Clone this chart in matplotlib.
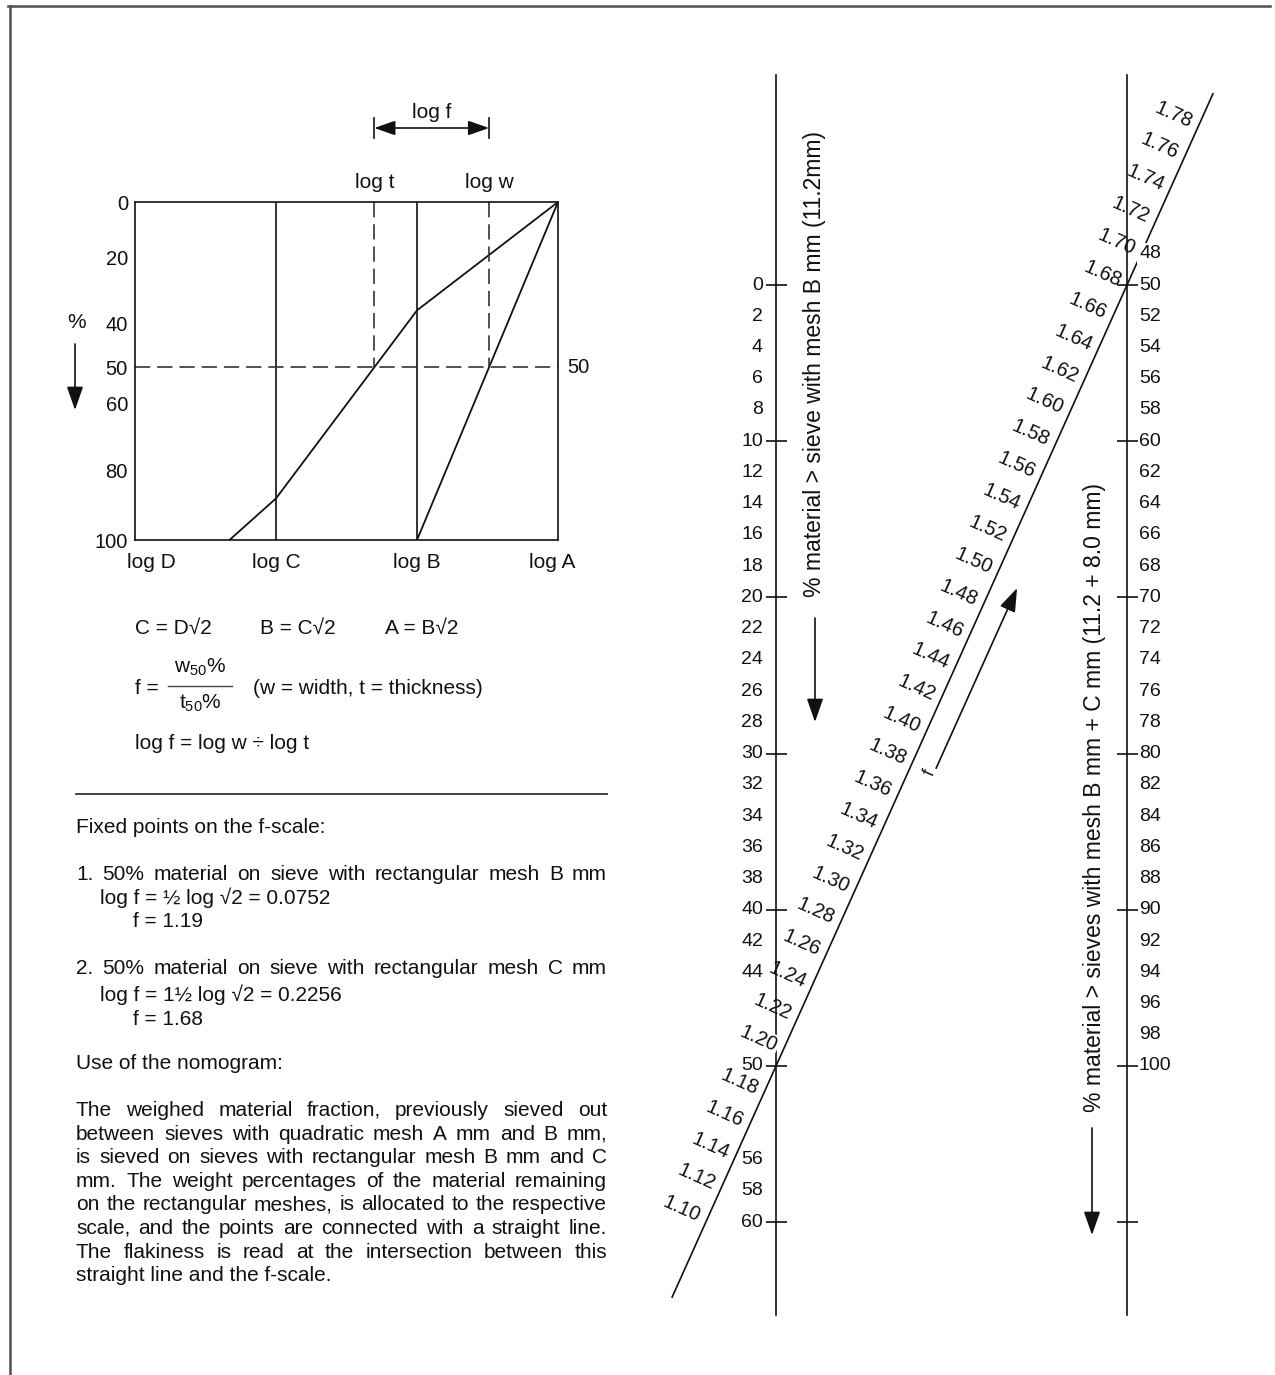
import numpy as np
import matplotlib
matplotlib.use("Agg")
import matplotlib.pyplot as plt
from matplotlib.lines import Line2D
from matplotlib.patches import FancyArrowPatch
import matplotlib.transforms as mtransforms

plt.rcParams['font.family'] = ['Liberation Sans', 'DejaVu Sans']
plt.rcParams['mathtext.fontset'] = 'custom'
plt.rcParams['mathtext.rm'] = 'Liberation Sans'
plt.rcParams['mathtext.it'] = 'Liberation Sans:italic'
plt.rcParams['mathtext.default'] = 'regular'
plt.rcParams['lines.scale_dashes'] = False

W, H, DPI = 1275, 1375, 100
PT = 72.0 / DPI          # points per pixel
INK = '#111111'

# ---------------- grading diagram ----------------
sieve_labels = ['log D', 'log C', 'log B', 'log A']
sieve_steps = [0, 1, 2, 3]                 # in steps of log sqrt(2)
pct_ticks = [0, 20, 40, 50, 60, 80, 100]
pct_tick_frac = [0, 0.163, 0.36, 0.489, 0.597, 0.795, 1.0]   # drawn spacing of the % axis

# % retained, thickness grading (rectangular meshes) and width grading
thick_steps = [3, 2, 1, 0.67]
thick_pct = [0, 36, 88, 100]
width_steps = [3, 2]
width_pct = [0, 100]

# ---------------- nomogram ----------------
left_labels = [0, 2, 4, 6, 8, 10, 12, 14, 16, 18, 20, 22, 24, 26, 28, 30,
               32, 34, 36, 38, 40, 42, 44, 50, 56, 58, 60]
left_major = [0, 10, 20, 30, 40, 50, 60]
right_labels = [48, 50, 52, 54, 56, 58, 60, 62, 64, 66, 68, 70, 72, 74, 76,
                78, 80, 82, 84, 86, 88, 90, 92, 94, 96, 98, 100]
right_major = [50, 60, 70, 80, 90, 100, 110]
right_offset = 50                       # right-scale value level with left 0
f_labels = [1.10, 1.12, 1.14, 1.16, 1.18, 1.20, 1.22, 1.24, 1.26, 1.28, 1.30,
            1.32, 1.34, 1.36, 1.38, 1.40, 1.42, 1.44, 1.46, 1.48, 1.50, 1.52,
            1.54, 1.56, 1.58, 1.60, 1.62, 1.64, 1.66, 1.68, 1.70, 1.72, 1.74,
            1.76, 1.78]
f_fixed = [1.19, 1.68]     # 50 % on mesh B (left scale), 50 % on B + C (right scale)
f_line = [1.045, 1.80]
f_arrow = [1.383, 1.496]
masked_f = [1.20]
masked_right = [48]

fig = plt.figure(figsize=(W / DPI, H / DPI), dpi=DPI)
fig.patch.set_facecolor('white')
renderer = fig.canvas.get_renderer()


def rect(x0, y0, x1, y1):
    return [x0 / W, 1 - y1 / H, (x1 - x0) / W, (y1 - y0) / H]


def ftext(x, y, s, **kw):
    kw.setdefault('color', INK)
    return fig.text(x / W, 1 - y / H, s, **kw)


def farrow(x0, y0, x1, y1, hl=0.8, hw=0.28, ms=18, lw=1.2, style='-|>'):
    st = f'{style},head_length={hl},head_width={hw}'
    fig.add_artist(FancyArrowPatch((x0 / W, 1 - y0 / H), (x1 / W, 1 - y1 / H),
                                   transform=fig.transFigure, arrowstyle=st,
                                   mutation_scale=ms, lw=lw, color=INK,
                                   shrinkA=0, shrinkB=0))


# page frame (top and left edges)
fig.add_artist(Line2D([8 / W, 1270 / W], [1 - 6 / H, 1 - 6 / H],
                      transform=fig.transFigure, color='#555555', lw=2.6 * PT))
fig.add_artist(Line2D([10 / W, 10 / W], [1 - 6 / H, 0],
                      transform=fig.transFigure, color='#555555', lw=2.6 * PT))

# ================= grading diagram =================
ax1 = fig.add_axes(rect(135, 202, 558, 540))
fwd = lambda p: np.interp(p, pct_ticks, pct_tick_frac)
inv = lambda q: np.interp(q, pct_tick_frac, pct_ticks)
ax1.set_yscale('function', functions=(fwd, inv))
ax1.set_xlim(sieve_steps[0], sieve_steps[-1])
ax1.set_ylim(100, 0)
for sp in ax1.spines.values():
    sp.set_linewidth(1.2)
    sp.set_color(INK)
ax1.set_xticks([])
ax1.set_yticks(pct_ticks)
ax1.set_yticklabels([str(v) for v in pct_ticks])
ax1.yaxis.set_minor_locator(matplotlib.ticker.NullLocator())
ax1.tick_params(axis='y', length=0, pad=7 * PT, labelsize=14.5, labelcolor=INK)

for s in sieve_steps[1:-1]:
    ax1.axvline(s, color=INK, lw=1.2)
ax1.plot(thick_steps, thick_pct, color=INK, lw=1.3)
ax1.plot(width_steps, width_pct, color=INK, lw=1.3)


def crossing(xs, ys, level):
    q = fwd(np.asarray(ys, float))
    ql = fwd(level)
    for i in range(len(xs) - 1):
        if (q[i] - ql) * (q[i + 1] - ql) <= 0:
            return xs[i] + (ql - q[i]) * (xs[i + 1] - xs[i]) / (q[i + 1] - q[i])


log_t = crossing(thick_steps, thick_pct, 50)
log_w = crossing(width_steps, width_pct, 50)
dash = (0, (11, 5))
ax1.axhline(50, color='#333333', lw=1.2, ls=dash)
ax1.plot([log_t, log_t], [0, 50], color='#333333', lw=1.2, ls=dash)
ax1.plot([log_w, log_w], [0, 50], color='#333333', lw=1.2, ls=dash)

ax1.annotate('50', (sieve_steps[-1], 50), xytext=(9 * PT, 0),
             textcoords='offset points', ha='left', va='center',
             fontsize=14.5, color=INK, annotation_clip=False)

label_shift = {'log D': 16, 'log A': -6}
for lab, s in zip(sieve_labels, sieve_steps):
    ax1.annotate(lab, (s, 0), xycoords=('data', 'axes fraction'),
                 xytext=(label_shift.get(lab, 0) * PT, -22 * PT),
                 textcoords='offset points', ha='center', va='center',
                 fontsize=15, color=INK, annotation_clip=False)

box_h = 338.0
blend = mtransforms.blended_transform_factory(ax1.transData, ax1.transAxes)
for lab, x in (('log t', log_t), ('log w', log_w)):
    ax1.text(x, 1 + 20 / box_h, lab, transform=blend, ha='center', va='center',
             fontsize=15, color=INK)
for x in (log_t, log_w):
    ax1.plot([x, x], [1 + 64 / box_h, 1 + 84 / box_h], transform=blend,
             color=INK, lw=1.2, clip_on=False)
ax1.annotate('', xy=(log_w, 1 + 74 / box_h), xytext=(log_t, 1 + 74 / box_h),
             xycoords=blend, textcoords=blend,
             arrowprops=dict(arrowstyle='<|-|>,head_length=0.8,head_width=0.28',
                             mutation_scale=16, lw=1.2, color=INK,
                             shrinkA=0, shrinkB=0), annotation_clip=False)
ax1.text((log_t + log_w) / 2, 1 + 89 / box_h, 'log f', transform=blend,
         ha='center', va='center', fontsize=15, color=INK)

ftext(77, 323, '%', fontsize=15, ha='center', va='center')
farrow(75, 344, 75, 410)

# ================= formulas =================
ftext(135, 634, 'C = D\u221a2', fontsize=15, va='baseline')
ftext(260, 634, 'B = C\u221a2', fontsize=15, va='baseline')
ftext(385, 634, 'A = B\u221a2', fontsize=15, va='baseline')
ftext(135, 694, 'f =', fontsize=15, va='baseline')
ftext(200, 667, r'w$_{50}$%', fontsize=15, ha='center', va='center')
fig.add_artist(Line2D([168 / W, 232 / W], [1 - 686 / H] * 2,
                      transform=fig.transFigure, color='#444444', lw=1.0))
ftext(200, 703, r't$_{50}$%', fontsize=15, ha='center', va='center')
ftext(253, 694, '(w = width, t = thickness)', fontsize=15, va='baseline')
ftext(135, 749, 'log f = log w \u00f7 log t', fontsize=15, va='baseline')

fig.add_artist(Line2D([76 / W, 607 / W], [1 - 794 / H] * 2,
                      transform=fig.transFigure, color='#333333', lw=1.3))

# ================= text block =================
X0, X1 = 76, 607


def text_line(s, y, x0=X0, x1=X1, justify=False, size=15):
    if not justify:
        return ftext(x0, y, s, fontsize=size, va='baseline')
    words = s.split(' ')
    arts = [ftext(0, y, w_, fontsize=size, va='baseline') for w_ in words]
    widths = [a.get_window_extent(renderer).width for a in arts]
    gap = (x1 - x0 - sum(widths)) / (len(words) - 1)
    x = x0
    for a, wd in zip(arts, widths):
        a.set_x(x / W)
        x += wd + gap


text_line('Fixed points on the f-scale:', 833)
text_line('1. 50% material on sieve with rectangular mesh B mm', 880, justify=True)
text_line('log f = \u00bd log \u221a2 = 0.0752', 904, x0=100)
text_line(f'f = {f_fixed[0]:.2f}', 927, x0=133)
text_line('2. 50% material on sieve with rectangular mesh C mm', 974, justify=True)
text_line('log f = 1\u00bd log \u221a2 = 0.2256', 1001, x0=100)
text_line(f'f = {f_fixed[1]:.2f}', 1025, x0=133)
text_line('Use of the nomogram:', 1069)

para = ['The weighed material fraction, previously sieved out',
        'between sieves with quadratic mesh A mm and B mm,',
        'is sieved on sieves with rectangular mesh B mm and C',
        'mm. The weight percentages of the material remaining',
        'on the rectangular meshes, is allocated to the respective',
        'scale, and the points are connected with a straight line.',
        'The flakiness is read at the intersection between this',
        'straight line and the f-scale.']
for i, line in enumerate(para):
    text_line(line, 1116 + 23.6 * i, justify=(i < len(para) - 1))

# ================= nomogram =================
LX, RX = 776, 1127          # pixel columns of the two % scales
PX_PCT, Y0 = 15.62, 285     # pixels per %, row of left 0 %
ax2 = fig.add_axes(rect(640, 0, W, H))
ax2.set_xlim((640 - LX) / (RX - LX), (W - LX) / (RX - LX))
ax2.set_ylim((H - Y0) / PX_PCT, (0 - Y0) / PX_PCT)
ax2.axis('off')

scale_span = [(75 - Y0) / PX_PCT, (1315 - Y0) / PX_PCT]
ax2.plot([0, 0], scale_span, color=INK, lw=1.2)
ax2.plot([1, 1], scale_span, color=INK, lw=1.2)
ax2.plot([0] * len(left_major), left_major, ls='none', marker='_',
         ms=21 * PT, mew=1.2, color=INK)
ax2.plot([1] * len(right_major), [r - right_offset for r in right_major],
         ls='none', marker='_', ms=21 * PT, mew=1.2, color=INK)

for v in left_labels:
    ax2.annotate(str(v), (0, v), xytext=(-13 * PT, 0), textcoords='offset points',
                 ha='right', va='center', fontsize=14, color=INK)
for v in right_labels:
    kw = {}
    if v in masked_right:
        kw['bbox'] = dict(boxstyle='square,pad=0.1', fc='white', ec='none')
    ax2.annotate(str(v), (1, v - right_offset), xytext=(12 * PT, 0),
                 textcoords='offset points', ha='left', va='center',
                 fontsize=14, color=INK, zorder=4, **kw)


def f_xy(f):
    s = (np.asarray(f, float) - f_fixed[0]) / (f_fixed[1] - f_fixed[0])
    return s, 50 * (1 - s)


fx, fy = f_xy(f_line)
ax2.plot(fx, fy, color=INK, lw=1.2, zorder=2)

p0 = ax2.transData.transform(np.column_stack(f_xy(f_fixed)))
d = p0[1] - p0[0]
theta = np.degrees(np.arctan2(d[1], d[0]))
th = np.radians(theta)
ul = np.array([np.cos(th), np.sin(th)])       # along the f-scale, increasing f
nl = np.array([-np.sin(th), np.cos(th)])      # left-hand normal of the f-scale
for f in f_labels:
    kw = {}
    if any(abs(f - m) < 1e-9 for m in masked_f):
        kw['bbox'] = dict(boxstyle='square,pad=0.08', fc='white', ec='none')
    off = 27 * nl
    if f < f_fixed[0]:
        off = off - 12 * ul       # keep clear of the "50" label
    ax2.annotate(f'{f:.2f}', f_xy(f), xytext=(off[0] * PT, off[1] * PT),
                 textcoords='offset points', ha='center', va='center',
                 rotation=theta - 90, rotation_mode='anchor', fontsize=14.5,
                 color=INK, zorder=4, **kw)

# reading-direction arrow beside the f-scale
pa = ax2.transData.transform(np.column_stack(f_xy(f_arrow)))
pa = pa - 24 * nl
ax2.annotate('', xy=tuple(pa[1]), xytext=tuple(pa[0]), xycoords='figure pixels',
             textcoords='figure pixels',
             arrowprops=dict(arrowstyle='-|>,head_length=0.8,head_width=0.28',
                             mutation_scale=18, lw=1.2, color=INK,
                             shrinkA=0, shrinkB=0))
ax2.annotate('f', tuple(pa[0]), xycoords='figure pixels', xytext=(-6 * PT, -5 * PT),
             textcoords='offset points', ha='center', va='center',
             rotation=theta, rotation_mode='anchor', fontsize=13, color=INK)

# scale titles
ftext(815, 364, '% material > sieve with mesh B mm (11.2mm)', rotation=90,
      ha='center', va='center', fontsize=16.5, rotation_mode='anchor')
farrow(815, 618, 815, 722)
ftext(1095, 798, '% material > sieves with mesh B mm + C mm (11.2 + 8.0 mm)',
      rotation=90, ha='center', va='center', fontsize=16.5, rotation_mode='anchor')
farrow(1092, 1128, 1092, 1235)

fig.savefig('out.png', dpi=DPI, facecolor='white')
